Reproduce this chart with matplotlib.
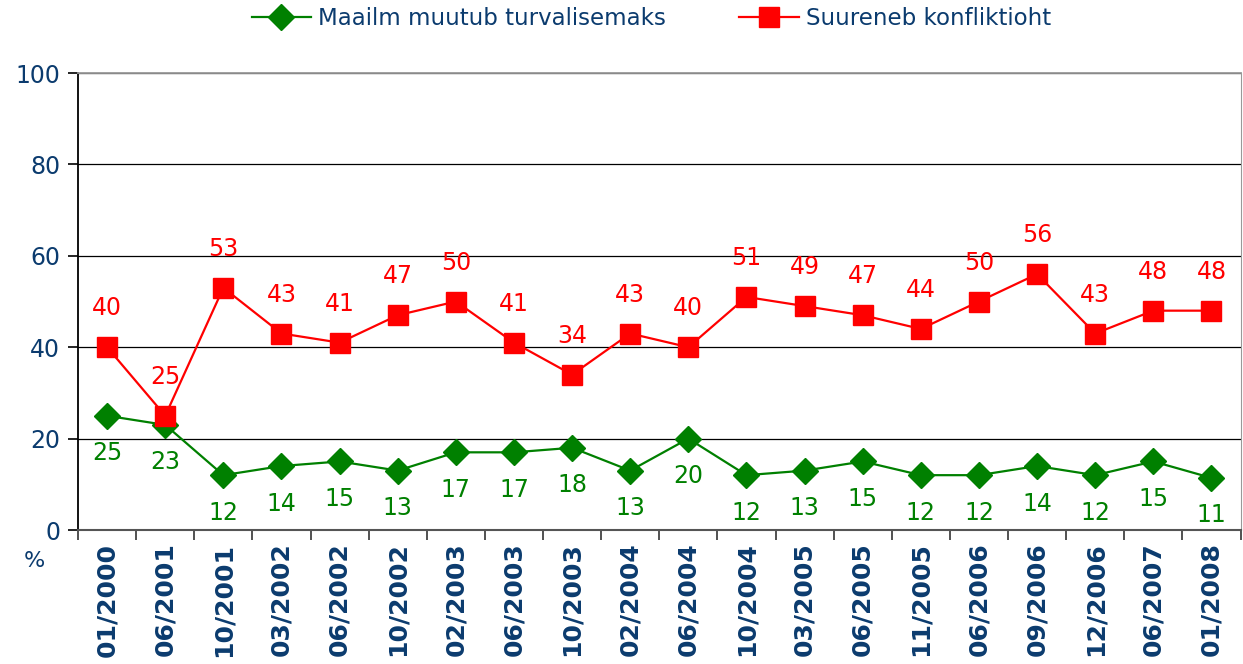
import numpy as np
import matplotlib.pyplot as plt

# data
periods = ["01/2000", "06/2001", "10/2001", "03/2002", "06/2002", "10/2002",
           "02/2003", "06/2003", "10/2003", "02/2004", "06/2004", "10/2004",
           "03/2005", "06/2005", "11/2005", "06/2006", "09/2006", "12/2006",
           "06/2007", "01/2008"]
safer = [25, 23, 12, 14, 15, 13, 17, 17, 18, 13, 20, 12, 13, 15, 12, 12, 14, 12, 15, 11.4]
conflict = [40, 25, 53, 43, 41, 47, 50, 41, 34, 43, 40, 51, 49, 47, 44, 50, 56, 43, 48, 48]

GREEN = "#008000"
RED = "#FF0000"
NAVY = "#0B3B6E"

fig = plt.figure(figsize=(12.43, 6.64), dpi=100)
ax = fig.add_axes([0.0628, 0.2018, 0.9352, 0.6882])

x = np.arange(len(periods))
ax.plot(x, safer, color=GREEN, lw=1.6, marker="D", ms=13, mec=GREEN, mfc=GREEN,
        label="Maailm muutub turvalisemaks", zorder=3)
ax.plot(x, conflict, color=RED, lw=1.6, marker="s", ms=14.5, mec=RED, mfc=RED,
        label="Suureneb konfliktioht", zorder=3)

for xi, v in zip(x, safer):
    ax.annotate("%.0f" % v, (xi, v), xytext=(0, -27), textcoords="offset points",
                ha="center", va="center", color=GREEN, fontsize=17)
for xi, v in zip(x, conflict):
    ax.annotate("%.0f" % v, (xi, v), xytext=(0, 28), textcoords="offset points",
                ha="center", va="center", color=RED, fontsize=17)

ax.set_xlim(-0.5, len(periods) - 0.5)
ax.set_ylim(0, 100)
ax.set_yticks(range(0, 101, 20))
ax.grid(axis="y", color="black", lw=0.9)
ax.set_axisbelow(True)

ax.set_xticks(x)
ax.set_xticklabels(periods, rotation=90, fontsize=18, fontweight="bold", color=NAVY)
ax.set_xticks(np.arange(-0.5, len(periods)), minor=True)
ax.tick_params(axis="x", which="major", length=0, pad=9)
ax.tick_params(axis="x", which="minor", length=7, width=1.2, color="#333333")
ax.tick_params(axis="y", length=7, width=1.2, labelsize=17, labelcolor=NAVY, pad=6)

ax.spines["left"].set_color("black")
ax.spines["left"].set_linewidth(1.3)
ax.spines["bottom"].set_color("#555555")
ax.spines["bottom"].set_linewidth(1.5)
ax.spines["top"].set_color("#999999")
ax.spines["right"].set_color("#999999")
ax.spines["top"].set_linewidth(1.3)

fig.text(0.028, 0.155, "%", fontsize=16, color=NAVY, ha="center", va="center")

leg = fig.legend(loc="center", bbox_to_anchor=(0.524, 0.972), ncol=2, frameon=False,
                 fontsize=16.5, handlelength=2.6, columnspacing=3.2, handletextpad=0.3)
for t in leg.get_texts():
    t.set_color(NAVY)

fig.savefig("out.png", dpi=100)
